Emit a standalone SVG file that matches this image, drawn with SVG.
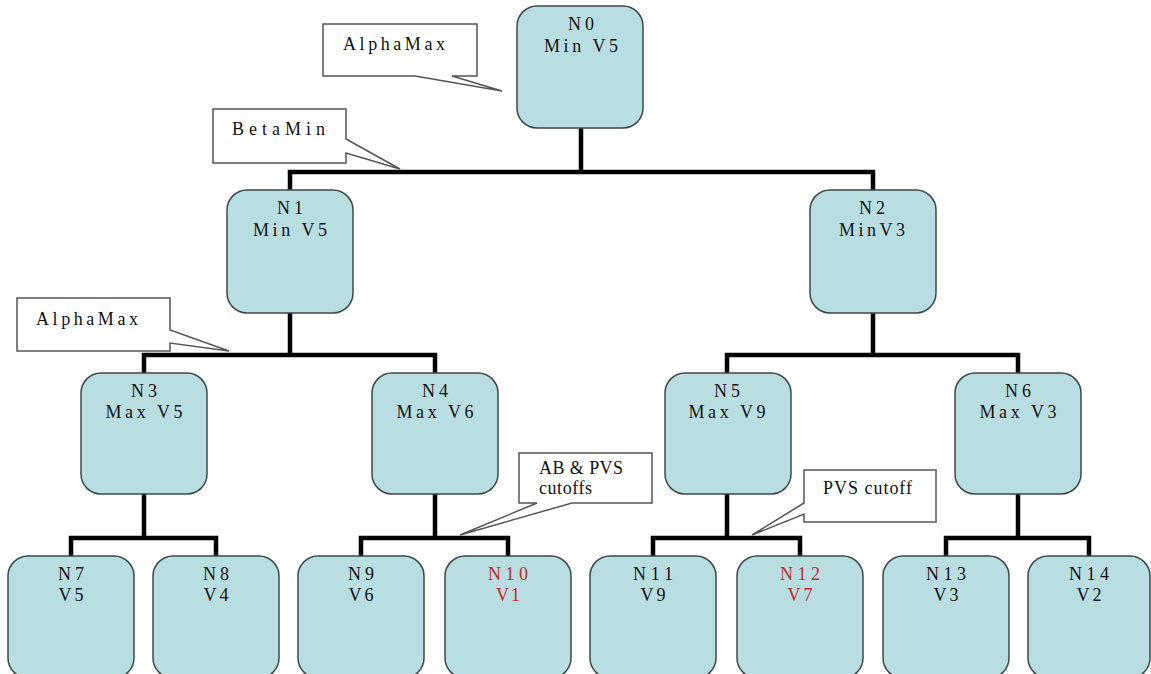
<svg xmlns="http://www.w3.org/2000/svg" width="1151" height="674" viewBox="0 0 1151 674">
<style>
.node{fill:#b9dee2;stroke:#3c4848;stroke-width:1.5}
.t{font-family:"Liberation Serif",serif;font-size:18px;fill:#111;text-anchor:middle}
.red{fill:#c0282d}
.call{fill:#fff;stroke:#555;stroke-width:1.5;stroke-linejoin:miter}
.ct{font-family:"Liberation Serif",serif;font-size:18px;fill:#111}
.edge{fill:none;stroke:#000;stroke-width:4.5}
</style>
<rect width="1151" height="674" fill="#fff"/>
<g id="connectors">
<path class="edge" d="M581,128 V172 M290,190 V172 H873 V190"/>
<path class="edge" d="M290,313 V355 M144,373 V355 H435 V373"/>
<path class="edge" d="M873,313 V355 M727,373 V355 H1018 V373"/>
<path class="edge" d="M144,494 V538 M71,556 V538 H216 V556"/>
<path class="edge" d="M435,494 V538 M361,556 V538 H508 V556"/>
<path class="edge" d="M727,494 V538 M653,556 V538 H800 V556"/>
<path class="edge" d="M1018,494 V538 M946,556 V538 H1089 V556"/>
</g>
<g id="N0"><rect class="node" x="517" y="6" width="126" height="122" rx="20"/><text class="t" x="581" y="30" textLength="26" lengthAdjust="spacing">N0</text><text class="t" x="581" y="52" textLength="74" lengthAdjust="spacing">Min V5</text></g>
<g id="N1"><rect class="node" x="227" y="190" width="126" height="123" rx="20"/><text class="t" x="290" y="214" textLength="26" lengthAdjust="spacing">N1</text><text class="t" x="290" y="236" textLength="74" lengthAdjust="spacing">Min V5</text></g>
<g id="N2"><rect class="node" x="810" y="190" width="126" height="123" rx="20"/><text class="t" x="872" y="214" textLength="26" lengthAdjust="spacing">N2</text><text class="t" x="872" y="236" textLength="66" lengthAdjust="spacing">MinV3</text></g>
<g id="N3"><rect class="node" x="81" y="373" width="126" height="121" rx="20"/><text class="t" x="144" y="397" textLength="26" lengthAdjust="spacing">N3</text><text class="t" x="144" y="418" textLength="77" lengthAdjust="spacing">Max V5</text></g>
<g id="N4"><rect class="node" x="372" y="373" width="126" height="121" rx="20"/><text class="t" x="435" y="397" textLength="26" lengthAdjust="spacing">N4</text><text class="t" x="435" y="418" textLength="77" lengthAdjust="spacing">Max V6</text></g>
<g id="N5"><rect class="node" x="665" y="373" width="126" height="121" rx="20"/><text class="t" x="727" y="397" textLength="26" lengthAdjust="spacing">N5</text><text class="t" x="727" y="418" textLength="77" lengthAdjust="spacing">Max V9</text></g>
<g id="N6"><rect class="node" x="955" y="373" width="126" height="121" rx="20"/><text class="t" x="1018" y="397" textLength="26" lengthAdjust="spacing">N6</text><text class="t" x="1018" y="418" textLength="77" lengthAdjust="spacing">Max V3</text></g>
<g id="N7"><rect class="node" x="8" y="556" width="126" height="122" rx="20"/><text class="t" x="71" y="580" textLength="26" lengthAdjust="spacing">N7</text><text class="t" x="71" y="601" textLength="25" lengthAdjust="spacing">V5</text></g>
<g id="N8"><rect class="node" x="153" y="556" width="126" height="122" rx="20"/><text class="t" x="216" y="580" textLength="26" lengthAdjust="spacing">N8</text><text class="t" x="216" y="601" textLength="25" lengthAdjust="spacing">V4</text></g>
<g id="N9"><rect class="node" x="298" y="556" width="126" height="122" rx="20"/><text class="t" x="361" y="580" textLength="26" lengthAdjust="spacing">N9</text><text class="t" x="361" y="601" textLength="25" lengthAdjust="spacing">V6</text></g>
<g id="N10"><rect class="node" x="445" y="556" width="126" height="122" rx="20"/><text class="t red" x="508" y="580" textLength="40" lengthAdjust="spacing">N10</text><text class="t red" x="508" y="601" textLength="24" lengthAdjust="spacing">V1</text></g>
<g id="N11"><rect class="node" x="590" y="556" width="126" height="122" rx="20"/><text class="t" x="653" y="580" textLength="40" lengthAdjust="spacing">N11</text><text class="t" x="653" y="601" textLength="25" lengthAdjust="spacing">V9</text></g>
<g id="N12"><rect class="node" x="737" y="556" width="126" height="122" rx="20"/><text class="t red" x="800" y="580" textLength="40" lengthAdjust="spacing">N12</text><text class="t red" x="800" y="601" textLength="25" lengthAdjust="spacing">V7</text></g>
<g id="N13"><rect class="node" x="883" y="556" width="126" height="122" rx="20"/><text class="t" x="946" y="580" textLength="40" lengthAdjust="spacing">N13</text><text class="t" x="946" y="601" textLength="25" lengthAdjust="spacing">V3</text></g>
<g id="N14"><rect class="node" x="1028" y="556" width="122" height="122" rx="20"/><text class="t" x="1089" y="580" textLength="40" lengthAdjust="spacing">N14</text><text class="t" x="1089" y="601" textLength="25" lengthAdjust="spacing">V2</text></g>
<g id="callout-alphamax-top"><path class="call" d="M323,24 H477 V76 H452 L502,91 L415,76 H323 Z"/><text class="ct" x="343" y="50" textLength="102" lengthAdjust="spacing">AlphaMax</text></g>
<g id="callout-betamin"><path class="call" d="M213,109 H346 V139 L400,169 L346,153 V163 H213 Z"/><text class="ct" x="232" y="135" textLength="93" lengthAdjust="spacing">BetaMin</text></g>
<g id="callout-alphamax-low"><path class="call" d="M17,298 H170 V330 L229,351 L170,343 V351 H17 Z"/><text class="ct" x="36" y="325" textLength="102" lengthAdjust="spacing">AlphaMax</text></g>
<g id="callout-abpvs"><path class="call" d="M519,453 H652 V503 H572 L460,535 L537,503 H519 Z"/><text class="ct red" x="539" y="474" textLength="84" lengthAdjust="spacing">AB &amp; PVS</text><text class="ct red" x="539" y="494" textLength="53" lengthAdjust="spacing">cutoffs</text></g>
<g id="callout-pvs"><path class="call" d="M804,470 H936 V522 H804 V514 L752,535 L804,503 Z"/><text class="ct red" x="823" y="494" textLength="89" lengthAdjust="spacing">PVS cutoff</text></g>
</svg>
